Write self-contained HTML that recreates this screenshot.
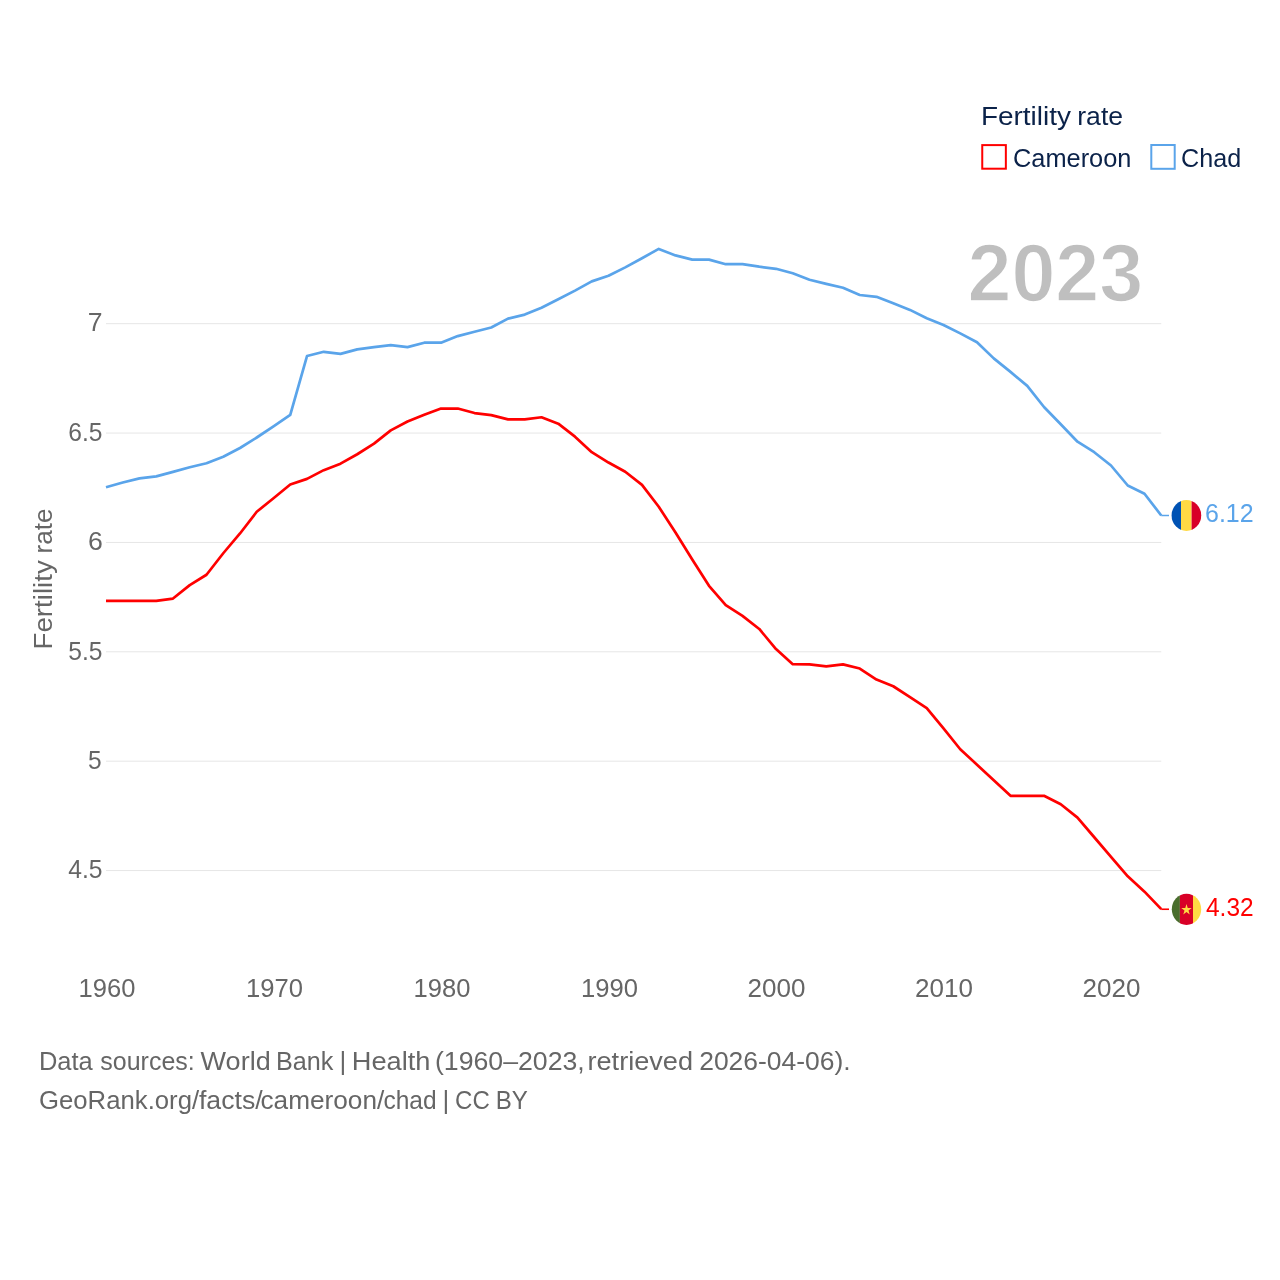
<!DOCTYPE html>
<html><head><meta charset="utf-8"><style>
html,body{margin:0;padding:0;background:#fff;}
svg{display:block;will-change:transform;}
text{font-family:"Liberation Sans",sans-serif;}
.ax{font-size:26px;fill:#666;}
.lg{font-size:26px;fill:#0b2249;}
.ft{font-size:26px;fill:#666;}
.yr{font-size:81.5px;font-weight:bold;fill:#bfbfbf;stroke:#fff;stroke-width:1.5px;}
.vb{font-size:26px;fill:#5aa4ea;}
.vr{font-size:26px;fill:#ff0000;}
</style></head><body>
<svg width="1280" height="1280" viewBox="0 0 1280 1280">
<rect width="1280" height="1280" fill="#fff"/>
<line x1="106.0" x2="1161.25" y1="323.70" y2="323.70" stroke="#e6e6e6" stroke-width="1"/>
<line x1="106.0" x2="1161.25" y1="433.07" y2="433.07" stroke="#e6e6e6" stroke-width="1"/>
<line x1="106.0" x2="1161.25" y1="542.44" y2="542.44" stroke="#e6e6e6" stroke-width="1"/>
<line x1="106.0" x2="1161.25" y1="651.81" y2="651.81" stroke="#e6e6e6" stroke-width="1"/>
<line x1="106.0" x2="1161.25" y1="761.18" y2="761.18" stroke="#e6e6e6" stroke-width="1"/>
<line x1="106.0" x2="1161.25" y1="870.55" y2="870.55" stroke="#e6e6e6" stroke-width="1"/>
<text id="t_y7" x="87.87" y="331.30" textLength="14.79" lengthAdjust="spacingAndGlyphs" class="ax">7</text>
<text id="t_y6.5" x="68.34" y="441.07" textLength="34.17" lengthAdjust="spacingAndGlyphs" class="ax">6.5</text>
<text id="t_y6" x="87.92" y="549.84" textLength="14.83" lengthAdjust="spacingAndGlyphs" class="ax">6</text>
<text id="t_y5.5" x="68.34" y="659.61" textLength="34.21" lengthAdjust="spacingAndGlyphs" class="ax">5.5</text>
<text id="t_y5" x="88.09" y="769.38" textLength="13.63" lengthAdjust="spacingAndGlyphs" class="ax">5</text>
<text id="t_y4.5" x="68.25" y="878.15" textLength="34.30" lengthAdjust="spacingAndGlyphs" class="ax">4.5</text>
<text id="t_1960" x="78.56" y="997.30" textLength="56.85" lengthAdjust="spacingAndGlyphs" class="ax">1960</text>
<text id="t_1970" x="246.05" y="997.30" textLength="56.95" lengthAdjust="spacingAndGlyphs" class="ax">1970</text>
<text id="t_1980" x="413.56" y="997.30" textLength="56.85" lengthAdjust="spacingAndGlyphs" class="ax">1980</text>
<text id="t_1990" x="581.05" y="997.30" textLength="56.95" lengthAdjust="spacingAndGlyphs" class="ax">1990</text>
<text id="t_2000" x="747.57" y="997.30" textLength="57.91" lengthAdjust="spacingAndGlyphs" class="ax">2000</text>
<text id="t_2010" x="915.06" y="997.30" textLength="57.91" lengthAdjust="spacingAndGlyphs" class="ax">2010</text>
<text id="t_2020" x="1082.57" y="997.30" textLength="57.91" lengthAdjust="spacingAndGlyphs" class="ax">2020</text>
<text id="t_2023" x="967.44" y="301.30" textLength="175.82" lengthAdjust="spacingAndGlyphs" class="yr">2023</text>
<text id="t_yt_0" transform="translate(51.50,649.45) rotate(-90)" x="0" y="0" textLength="89.21" lengthAdjust="spacingAndGlyphs" class="ax">Fertility</text>
<text id="t_yt_1" transform="translate(51.50,553.49) rotate(-90)" x="0" y="0" textLength="44.93" lengthAdjust="spacingAndGlyphs" class="ax">rate</text>
<polyline points="106.00,600.95 122.75,600.95 139.50,600.95 156.25,600.95 173.00,598.55 189.75,585.15 206.50,574.75 223.25,553.25 240.00,533.45 256.75,511.75 273.50,498.25 290.25,484.55 307.00,478.85 323.75,470.15 340.50,463.65 357.25,454.25 374.00,443.65 390.75,430.35 407.50,421.55 424.25,414.85 441.00,408.55 457.75,408.55 474.50,413.05 491.25,415.15 508.00,419.35 524.75,419.35 541.50,417.25 558.25,423.65 575.00,436.65 591.75,452.15 608.50,462.55 625.25,471.75 642.00,484.85 658.75,506.75 675.50,532.45 692.25,559.55 709.00,585.85 725.75,605.05 742.50,615.85 759.25,628.95 776.00,649.05 792.75,664.15 809.50,664.35 826.25,666.45 843.00,664.35 859.75,668.55 876.50,679.55 893.25,686.25 910.00,697.15 926.75,708.15 943.50,728.45 960.25,749.25 977.00,764.65 993.75,780.25 1010.50,795.85 1027.25,795.85 1044.00,795.75 1060.75,804.25 1077.50,817.65 1094.25,837.25 1111.00,856.85 1127.75,876.35 1144.50,891.65 1161.25,909.15" fill="none" stroke="#ff0000" stroke-width="2.7" stroke-linejoin="round"/>
<polyline points="106.00,487.20 122.75,482.50 139.50,478.40 156.25,476.40 173.00,471.90 189.75,467.30 206.50,463.30 223.25,456.70 240.00,448.00 256.75,437.50 273.50,426.40 290.25,414.80 307.00,356.05 323.75,351.80 340.50,353.90 357.25,349.40 374.00,347.10 390.75,345.10 407.50,347.10 424.25,342.70 441.00,342.70 457.75,336.10 474.50,331.80 491.25,327.50 508.00,318.60 524.75,314.60 541.50,307.70 558.25,299.30 575.00,290.60 591.75,281.40 608.50,275.80 625.25,267.40 642.00,258.20 658.75,248.90 675.50,255.40 692.25,259.60 709.00,259.60 725.75,264.20 742.50,264.20 759.25,266.70 776.00,268.80 792.75,273.30 809.50,279.70 826.25,283.90 843.00,287.80 859.75,295.00 876.50,296.80 893.25,303.30 910.00,309.90 926.75,318.30 943.50,325.00 960.25,333.40 977.00,342.30 993.75,358.40 1010.50,371.90 1027.25,385.90 1044.00,407.00 1060.75,424.30 1077.50,441.70 1094.25,452.20 1111.00,465.50 1127.75,485.50 1144.50,493.70 1161.25,515.50" fill="none" stroke="#5aa4ea" stroke-width="2.7" stroke-linejoin="round"/>
<line x1="1161.25" x2="1169" y1="515.5" y2="515.5" stroke="#5aa4ea" stroke-width="1.5"/>
<line x1="1161.25" x2="1169" y1="909.25" y2="909.25" stroke="#ff0000" stroke-width="1.6"/>
<defs>
<clipPath id="cc1"><ellipse cx="1186.4" cy="515.4" rx="14.8" ry="15.5"/></clipPath>
<clipPath id="cc2"><ellipse cx="1186.5" cy="909.35" rx="14.7" ry="15.55"/></clipPath>
</defs>
<g clip-path="url(#cc1)">
<rect x="1170" y="498" width="11" height="35" fill="#0052b4"/>
<rect x="1181" y="498" width="10.6" height="35" fill="#ffda44"/>
<rect x="1191.6" y="498" width="11" height="35" fill="#d80027"/>
</g>
<g clip-path="url(#cc2)">
<rect x="1170" y="892" width="9.9" height="35" fill="#496e2d"/>
<rect x="1179.9" y="892" width="13.1" height="35" fill="#d80027"/>
<rect x="1193" y="892" width="10" height="35" fill="#ffda44"/>
<polygon transform="translate(1186.5,909.8) scale(1,1.05)" points="0.00,-5.50 1.23,-1.70 5.23,-1.70 2.00,0.65 3.23,4.45 0.00,2.10 -3.23,4.45 -2.00,0.65 -5.23,-1.70 -1.23,-1.70" fill="#ffda44"/>
</g>
<text id="t_v612" x="1205.00" y="521.90" textLength="48.58" lengthAdjust="spacingAndGlyphs" class="vb">6.12</text>
<text id="t_v432" x="1206.00" y="916.00" textLength="47.57" lengthAdjust="spacingAndGlyphs" class="vr">4.32</text>
<text id="t_lt_0" x="980.94" y="125.00" textLength="90.04" lengthAdjust="spacingAndGlyphs" class="lg">Fertility</text>
<text id="t_lt_1" x="1077.29" y="125.00" textLength="45.77" lengthAdjust="spacingAndGlyphs" class="lg">rate</text>
<rect x="982.25" y="145.1" width="23.6" height="23.6" fill="none" stroke="#ff0000" stroke-width="2"/>
<text id="t_cam" x="1013.01" y="166.90" textLength="118.42" lengthAdjust="spacingAndGlyphs" class="lg">Cameroon</text>
<rect x="1151.3" y="145" width="23.4" height="23.8" fill="none" stroke="#5aa4ea" stroke-width="2"/>
<text id="t_chad" x="1181.01" y="166.90" textLength="60.18" lengthAdjust="spacingAndGlyphs" class="lg">Chad</text>
<text id="t_f2_0a" x="38.98" y="1108.75" textLength="160.14" lengthAdjust="spacingAndGlyphs" class="ft">GeoRank.org/</text>
<text id="t_f2_0b" x="198.96" y="1108.75" textLength="63.68" lengthAdjust="spacingAndGlyphs" class="ft">facts/</text>
<text id="t_f2_0c" x="260.46" y="1108.75" textLength="123.83" lengthAdjust="spacingAndGlyphs" class="ft">cameroon/</text>
<text id="t_f2_0d" x="383.46" y="1108.75" textLength="53.19" lengthAdjust="spacingAndGlyphs" class="ft">chad</text>
<text id="t_f1_0" x="38.93" y="1070.00" textLength="53.81" lengthAdjust="spacingAndGlyphs" class="ft">Data</text>
<text id="t_f1_1" x="100.37" y="1070.00" textLength="94.31" lengthAdjust="spacingAndGlyphs" class="ft">sources:</text>
<text id="t_f1_2" x="200.60" y="1070.00" textLength="70.09" lengthAdjust="spacingAndGlyphs" class="ft">World</text>
<text id="t_f1_3" x="275.90" y="1070.00" textLength="57.40" lengthAdjust="spacingAndGlyphs" class="ft">Bank</text>
<text id="t_f1_4" x="339.43" y="1070.00" class="ft">|</text>
<text id="t_f1_5" x="351.73" y="1070.00" textLength="78.69" lengthAdjust="spacingAndGlyphs" class="ft">Health</text>
<text id="t_f1_6" x="434.97" y="1070.00" textLength="149.82" lengthAdjust="spacingAndGlyphs" class="ft">(1960–2023,</text>
<text id="t_f1_7" x="587.53" y="1070.00" textLength="105.48" lengthAdjust="spacingAndGlyphs" class="ft">retrieved</text>
<text id="t_f1_8" x="699.18" y="1070.00" textLength="151.46" lengthAdjust="spacingAndGlyphs" class="ft">2026-04-06).</text>
<text id="t_f2_1" x="442.43" y="1108.75" class="ft">|</text>
<text id="t_f2_2" x="455.09" y="1108.75" textLength="34.72" lengthAdjust="spacingAndGlyphs" class="ft">CC</text>
<text id="t_f2_3" x="495.66" y="1108.75" textLength="32.14" lengthAdjust="spacingAndGlyphs" class="ft">BY</text>
</svg>
</body></html>
